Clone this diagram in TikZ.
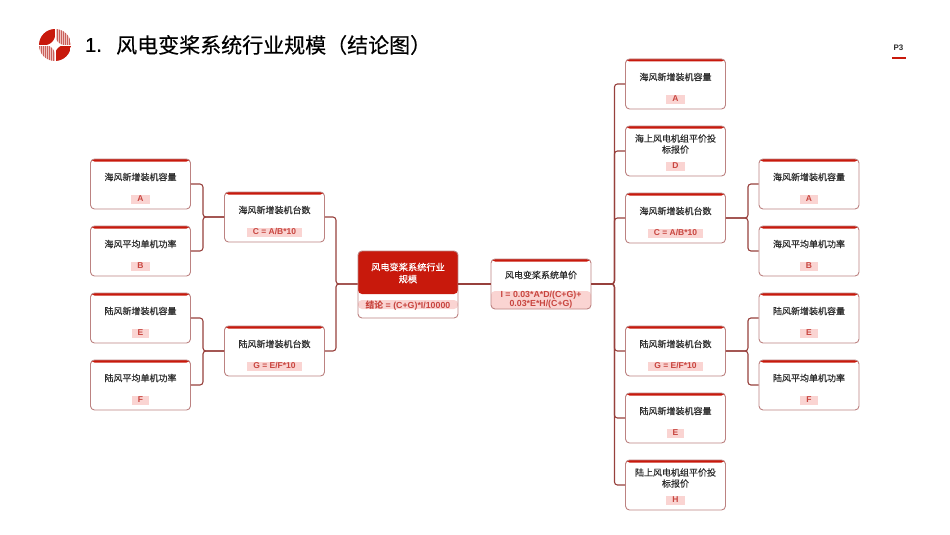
\documentclass[tikz,border=0pt]{standalone}
\usepackage{xcolor}
\usepackage{fontspec}
\setmainfont{Liberation Sans}
\newfontfamily\latinhead[FakeBold=0.35]{Liberation Sans}
\newfontfamily\cjk{Noto Sans CJK SC}
\newfontfamily\cjkhead[FakeBold=0.35]{Noto Sans CJK SC}
\newfontfamily\cjkcard[FakeBold=0.2]{Noto Sans CJK SC}
\definecolor{brandred}{HTML}{C8190C}
\definecolor{linkred}{HTML}{97403C}
\definecolor{edgered}{HTML}{BC8281}
\definecolor{stripred}{HTML}{FAD4D2}
\definecolor{formred}{HTML}{C8453F}
\definecolor{inkgray}{HTML}{2E2E2E}
\definecolor{logopink}{HTML}{F0C4C2}
\definecolor{logoline}{HTML}{C9605A}
\tikzset{
  link/.style={draw=linkred,line width=1.1pt,rounded corners=3pt},
  cardbox/.style={draw=edgered,fill=white,line width=.9pt,rounded corners=4pt,
    minimum width=100pt,minimum height=50pt,inner sep=0pt},
  cardtitle/.style={font=\fontsize{9}{11}\selectfont\cjkcard,text=inkgray,align=center,inner sep=0pt},
  cardform/.style={font=\fontsize{8.5}{9}\selectfont\bfseries,text=formred,fill=stripred,
    inner xsep=6pt,inner ysep=0pt,minimum height=9pt},
}
% card with a red top edge, a title and a formula strip
\newcommand{\card}[5]{
  \node[cardbox,path picture={\fill[brandred]
    (path picture bounding box.north west) rectangle ([yshift=-2.5pt]path picture bounding box.north east);}]
    (#1) at (#2,#3) {};
  \node[cardtitle] (#1-t) at (#2,#3-7) {#4};
  \node[cardform] (#1-f) at (#2,#3+15) {#5};
}
\begin{document}
\begin{tikzpicture}[x=1pt,y=-1pt]
\useasboundingbox (0,0) rectangle (950,535);
% logo
\begin{scope}
\clip (55,45) circle (16);
\fill[brandred] (39,29) rectangle (55,45);
\fill[brandred] (55,45) rectangle (71,61);
\fill[logopink] (55,29) rectangle (71,45);
\fill[logopink] (39,45) rectangle (55,61);
\foreach \i in {0,2,...,14}{
  \draw[logoline,line width=.9pt] (55.5+\i,29) -- (55.5+\i,45);
  \draw[logoline,line width=.9pt] (39.5+\i,45) -- (39.5+\i,61);
}
\draw[white,line width=.8pt] (39,45) -- (71,45);
\draw[white,line width=.8pt] (55,29) -- (55,61);
\fill[white] (55,37) .. controls (56,41) and (59,44) .. (63,45)
  .. controls (59,46) and (56,49) .. (55,53)
  .. controls (54,49) and (51,46) .. (47,45)
  .. controls (51,44) and (54,41) .. (55,37) -- cycle;
\end{scope}
% heading
\node[anchor=west,inner sep=0pt,text=black] (head) at (85,45)
  {\fontsize{20}{24}\selectfont\latinhead 1.};
\node[anchor=west,inner sep=0pt,text=black] (headcn) at (116,45)
  {\fontsize{21}{24}\selectfont\cjkhead 风电变桨系统行业规模（结论图）};
\node[inner sep=0pt,text=inkgray,font=\fontsize{8}{9}\selectfont\bfseries] (page) at (898.5,48) {P3};
\coordinate (pa) at (892,58);
\coordinate (pb) at (906,58);
\draw[brandred,line width=1.5pt] (pa) -- (pb);
\card{la}{140.5}{184}{海风新增装机容量}{A}
\card{lb}{140.5}{251}{海风平均单机功率}{B}
\card{le}{140.5}{318}{陆风新增装机容量}{E}
\card{lf}{140.5}{385}{陆风平均单机功率}{F}
\card{lc}{274.5}{217}{海风新增装机台数}{C = A/B*10}
\card{lg}{274.5}{351}{陆风新增装机台数}{G = E/F*10}
\card{ra}{675.5}{84}{海风新增装机容量}{A}
\card{rd}{675.5}{151}{海上风电机组平价投\\标报价}{D}
\card{rc}{675.5}{218}{海风新增装机台数}{C = A/B*10}
\card{rg}{675.5}{351}{陆风新增装机台数}{G = E/F*10}
\card{re}{675.5}{418}{陆风新增装机容量}{E}
\card{rh}{675.5}{485}{陆上风电机组平价投\\标报价}{H}
\card{sa}{809}{184}{海风新增装机容量}{A}
\card{sb}{809}{251}{海风平均单机功率}{B}
\card{se}{809}{318}{陆风新增装机容量}{E}
\card{sf}{809}{385}{陆风平均单机功率}{F}
% unit price card
\node[cardbox,path picture={
    \fill[brandred] (path picture bounding box.north west) rectangle ([yshift=-2.5pt]path picture bounding box.north east);
    \fill[stripred] ([yshift=18pt]path picture bounding box.south west) rectangle (path picture bounding box.south east);}]
  (unit) at (541,284) {};
\node[cardtitle] (unit-t) at (541,275) {风电变桨系统单价};
\node[inner sep=0pt,align=center,text=formred,font=\fontsize{8.8}{9}\selectfont\bfseries] (unit-f) at (541,299.5)
  {I = 0.03*A*D/(C+G)+\\0.03*E*H/(C+G)};
% main card
\node[cardbox,minimum height=67pt,path picture={
    \fill[brandred] (path picture bounding box.north west) rectangle ([yshift=-43pt]path picture bounding box.north east);
    \fill[stripred] ([yshift=-49pt]path picture bounding box.north west) rectangle ([yshift=-58pt]path picture bounding box.north east);}]
  (main) at (408,284.5) {};
\node[cardtitle,text=white,font=\fontsize{9.2}{12}\selectfont\cjkhead] (main-t) at (408,273) {风电变桨系统行业\\规模};
\node[inner sep=0pt,text=formred,font=\fontsize{8.8}{9}\selectfont\bfseries] (main-f) at (408,305.5) {{\cjk 结论} = (C+G)*I/10000};
% connectors
\draw[link] (la.east) -- ++(12,0) |- (lc.west);
\draw[link] (lb.east) -- ++(12,0) |- (lc.west);
\draw[link] (le.east) -- ++(12,0) |- (lg.west);
\draw[link] (lf.east) -- ++(12,0) |- (lg.west);
\draw[link] (lc.east) -- ++(11,0) |- (main.west |- unit.east);
\draw[link] (lg.east) -- ++(11,0) |- (main.west |- unit.east);
\draw[link] (main.east |- unit.west) -- (unit.west);
\foreach \n in {ra,rd,rc,rg,re,rh}
  \draw[link] (unit.east) -- ++(23,0) |- (\n.west);
\draw[link] (rc.east) -- ++(22,0) |- (sa.west);
\draw[link] (rc.east) -- ++(22,0) |- (sb.west);
\draw[link] (rg.east) -- ++(22,0) |- (se.west);
\draw[link] (rg.east) -- ++(22,0) |- (sf.west);
\end{tikzpicture}
\end{document}
